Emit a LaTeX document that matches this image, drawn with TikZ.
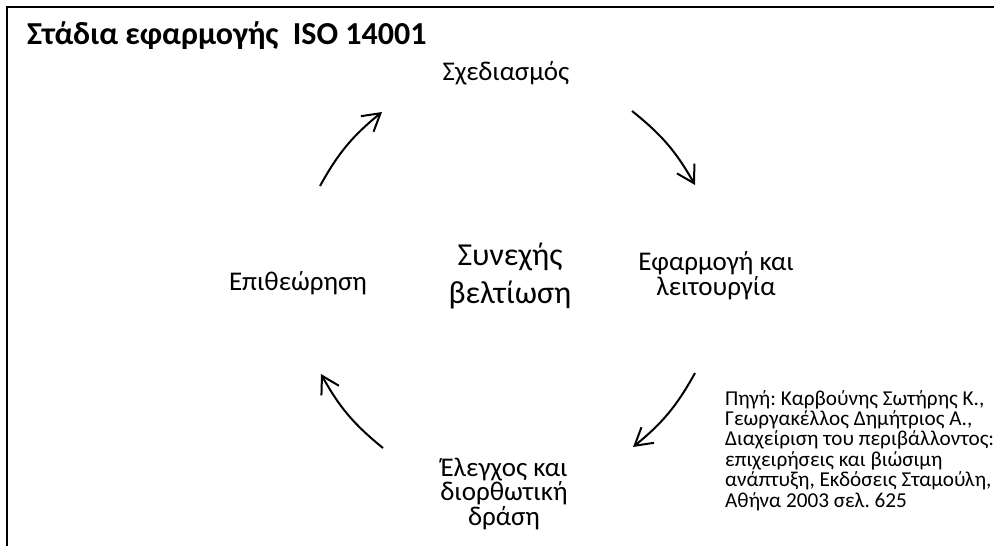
\documentclass[tikz,border=0pt]{standalone}
\usepackage{fontspec}
\setmainfont{Carlito}
\usetikzlibrary{arrows.meta}
\frenchspacing
\begin{document}
\begin{tikzpicture}[x=1pt,y=1pt,
  lbl/.style={anchor=base,align=center,inner sep=0pt,font=\fontsize{27}{24.5}\selectfont},
  cyc/.style={line width=2pt,-{Straight Barb[length=17pt,width=20pt,line width=2pt]},bend left=11},
  frame/.style={line width=2pt}]
\useasboundingbox (0,0) rectangle (994,-546);
\draw[frame] (994,-7) -- (7,-7) -- (7,-546);
\node[anchor=base west,inner sep=0pt,font=\bfseries\fontsize{32}{36}\selectfont] (title) at (27,-45) {Στάδια εφαρμογής\ \ ISO 14001};
\node[lbl] (plan) at (506,-80) {Σχεδιασμός};
\node[lbl] (check) at (298,-290) {Επιθεώρηση};
\node[lbl,font=\fontsize{32}{38}\selectfont] (cont) at (510,-303) {Συνεχής\\βελτίωση};
\node[lbl] (impl) at (716,-295) {Εφαρμογή και\\λειτουργία};
\node[lbl] (corr) at (504,-525) {Έλεγχος και\\διορθωτική\\δράση};
\node[anchor=base west,align=left,inner sep=0pt,font=\fontsize{21.2}{20.4}\selectfont] (src) at (725,-507) {Πηγή: Καρβούνης Σωτήρης Κ.,\\Γεωργακέλλος Δημήτριος Α.,\\Διαχείριση του περιβάλλοντος:\\επιχειρήσεις και βιώσιμη\\ανάπτυξη, Εκδόσεις Σταμούλη,\\Αθήνα 2003 σελ. 625};
\coordinate (a1s) at (320,-186); \coordinate (a1e) at (382,-112);
\coordinate (a2s) at (632,-111); \coordinate (a2e) at (695,-185);
\coordinate (a3s) at (695,-373); \coordinate (a3e) at (633,-447);
\coordinate (a4s) at (383,-448); \coordinate (a4e) at (321,-374);
\draw[cyc] (a1s) to (a1e);
\draw[cyc] (a2s) to (a2e);
\draw[cyc] (a3s) to (a3e);
\draw[cyc] (a4s) to (a4e);
\end{tikzpicture}
\end{document}
